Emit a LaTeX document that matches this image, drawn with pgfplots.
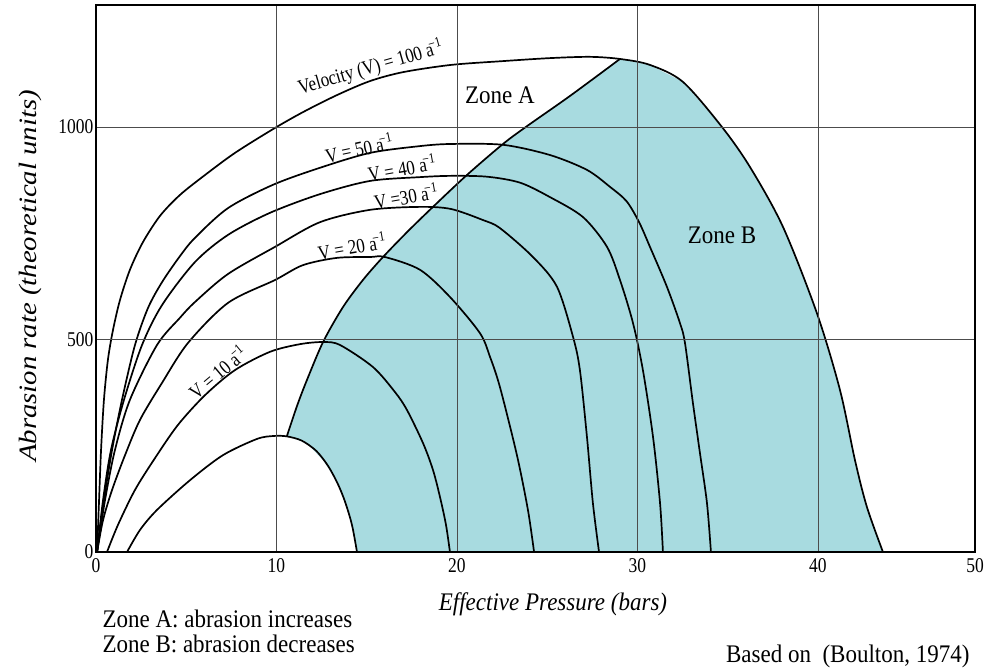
\documentclass[border=0pt]{standalone}
\usepackage{graphicx}
\usepackage{pgfplots}
\pgfplotsset{compat=1.18}
\usepackage{fontspec}
\setmainfont{Liberation Serif}
\definecolor{zoneblue}{RGB}{168,219,224}
\newcommand{\ainv}{a\hspace{-0.2em}\textsuperscript{−1}}
\newcommand{\vs}[1]{\scalebox{1}[1.2]{#1}}
\newcommand{\vt}[1]{\scalebox{1}[1.1]{#1}}
\begin{document}
\begin{tikzpicture}
\begin{axis}[
  at={(0pt,0pt)}, anchor=south west,
  width=879pt, height=547pt, scale only axis,
  xmin=0, xmax=48.7, ymin=0, ymax=1287,
  xtick={0,10,20,30,40,48.7},
  xticklabels={\vs{0},\vs{10},\vs{20},\vs{30},\vs{40},\vs{50}},
  ytick={0,500,1000},
  yticklabels={\vs{0},\vs{500},\vs{1000}},
  grid=major,
  grid style={line width=0.7pt, black!70},
  major tick length=0pt,
  axis line style={line width=1.7pt},
  tick label style={font=\fontsize{17.5}{17.5}\selectfont},
  xticklabel style={yshift=-3pt},
  yticklabel style={xshift=1pt},
  axis on top,
  every axis plot/.append style={line width=1.7pt, black},
]
% Zone B fill
\addplot[fill=zoneblue, draw=none] coordinates {
 (10.58,273) (11.14,344) (11.69,405) (12.58,494) (13.68,576) (14.79,640)
 (15.90,694) (17.29,755) (18.67,812) (20.55,887) (22.55,960) (23.88,1002)
 (26.26,1073) (29.03,1160)
 (30.69,1146) (32.52,1106) (34.68,1000) (36.23,906) (38.06,765)
 (39.94,562) (41.22,381) (42.05,216) (42.71,106) (43.60,0)
 (14.46,0) (14.18,64) (13.80,122) (13.24,174) (12.58,216) (11.69,256) (10.58,273)
};
% Zone boundary (locus of maxima)
\addplot[smooth] coordinates {
 (10.58,273) (11.14,344) (11.69,405) (12.58,494) (13.68,576) (14.79,640)
 (15.90,694) (17.29,755) (18.67,812) (20.55,887) (22.55,960) (23.88,1002)
 (26.26,1073) (29.03,1160)
};
% V = 100
\addplot[smooth] coordinates {
 (0.06,0) (0.17,122) (0.28,240) (0.44,358) (0.66,452) (0.94,522) (1.33,593)
 (1.88,664) (2.60,729) (3.55,791) (4.65,840) (6.04,887) (7.70,939)
 (9.81,995) (11.47,1035) (13.35,1075) (15.18,1108) (17.01,1129)
 (19.67,1146) (22.55,1155) (25.15,1162) (27.37,1165) (29.03,1160)
 (30.69,1146) (32.52,1106) (34.68,1000) (36.23,906) (38.06,765)
 (39.94,562) (41.22,381) (42.05,216) (42.71,106) (43.60,0)
};
% V = 50
\addplot[smooth] coordinates {
 (0.06,0) (0.44,122) (0.89,240) (1.44,358) (2.16,487) (2.88,574) (3.66,635)
 (4.65,696) (5.48,739) (7.31,809) (9.81,864) (12.41,904) (15.18,939)
 (17.95,955) (19.67,960) (22.55,958) (25.15,934) (27.20,899) (28.48,859)
 (29.40,825) (30.10,775) (30.69,718) (31.63,624) (32.35,539) (32.63,492)
 (33.07,351) (33.46,233) (33.85,115) (34.07,0)
};
% V = 40
\addplot[smooth] coordinates {
 (0.06,0) (0.39,122) (0.83,240) (1.55,358) (2.55,487) (3.66,581) (5.48,682)
 (7.31,746) (9.64,798) (12.41,842) (15.18,873) (17.95,882) (19.67,885)
 (21.66,883) (23.49,869) (25.15,835) (26.98,788) (28.31,718) (29.03,640)
 (29.75,539) (30.30,428) (30.86,271) (31.25,115) (31.41,0)
};
% V = 30
\addplot[smooth] coordinates {
 (0.06,0) (0.50,122) (1.05,240) (1.88,358) (3.38,487) (4.65,551) (5.48,588)
 (7.31,654) (9.92,718) (12.41,776) (15.18,805) (17.95,812) (19.67,807)
 (21.44,781) (22.38,762) (24.21,694) (25.54,624) (26.43,506) (26.81,428)
 (27.20,271) (27.53,115) (27.87,0)
};
% V = 20
\addplot[smooth] coordinates {
 (0.06,0) (0.39,75) (0.89,146) (1.61,228) (2.44,311) (3.66,398) (5.10,492)
 (7.31,586) (9.92,640) (11.47,675) (13.35,692) (15.18,694) (16.01,694)
 (17.95,664) (19.61,600) (21.27,515) (21.83,459) (22.38,388) (23.32,228)
 (23.93,99) (24.27,0)
};
% V = 10
\addplot[smooth] coordinates {
 (0.61,0) (1.22,64) (2.16,146) (3.27,221) (4.54,299) (6.04,369) (7.70,428)
 (9.64,471) (11.30,489) (12.58,494) (13.52,487) (15.35,435) (16.57,376)
 (17.23,334) (18.12,256) (18.67,193) (19.06,129) (19.39,64) (19.61,0)
};
% innermost
\addplot[smooth] coordinates {
 (1.72,0) (2.44,52) (3.38,99) (5.21,169) (7.04,228) (8.92,266) (9.86,273)
 (10.58,272) (11.40,262) (12.20,238) (12.85,203) (13.40,160) (13.80,118)
 (14.18,64) (14.46,0)
};
% labels
\begin{scope}[every node/.style={font=\fontsize{17}{17}\selectfont}]
\node[rotate=16, anchor=south, inner sep=1pt] at (axis cs:15.4,1113) {\vs{Velocity (V) = 100 \ainv}};
\node[rotate=12] at (axis cs:14.57,951) {\vs{V = 50 \ainv}};
\node[rotate=10] at (axis cs:16.95,904) {\vs{V = 40 \ainv}};
\node[rotate=10] at (axis cs:17.17,838) {\vs{V =30 \ainv}};
\node[rotate=10] at (axis cs:14.18,720) {\vs{V = 20 \ainv}};
\node[rotate=40, anchor=south, inner sep=1.5pt] at (axis cs:7.1,405) {\vs{V = 10 \ainv}};
\end{scope}
\node[font=\fontsize{23}{23}\selectfont] at (axis cs:22.38,1075) {\vt{Zone A}};
\node[font=\fontsize{23}{23}\selectfont] at (axis cs:34.68,746) {\vt{Zone B}};
\end{axis}
\node[font=\fontsize{23}{23}\selectfont\itshape, anchor=base] at (457pt,-59pt) {\vt{Effective Pressure (bars)}};
\node[font=\fontsize{25}{25}\selectfont\itshape, rotate=90] at (-66pt,276pt) {\scalebox{1.15}[1]{Abrasion rate (theoretical units)}};
\node[font=\fontsize{23}{23}\selectfont, anchor=base west] at (3pt,-76pt) {\vt{Zone A: abrasion increases}};
\node[font=\fontsize{23}{23}\selectfont, anchor=base west] at (3pt,-101pt) {\vt{Zone B: abrasion decreases}};
\node[font=\fontsize{23}{23}\selectfont, anchor=base east] at (877pt,-111pt) {\vt{Based on\ \ (Boulton, 1974)}};
\pgfresetboundingbox
\path (-96pt,-116pt) rectangle (894pt,552pt);
\end{tikzpicture}
\end{document}
